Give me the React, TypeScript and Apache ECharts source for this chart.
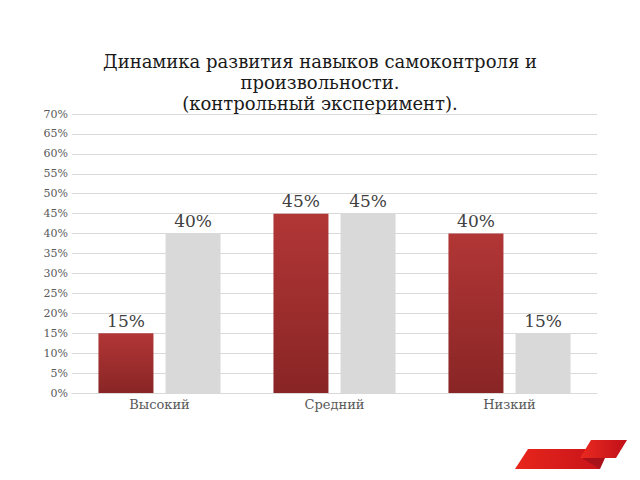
import React, { useEffect, useRef } from 'react';
import * as echarts from 'echarts';

const categories: string[] = ['Высокий', 'Средний', 'Низкий'];
const firstValues: number[] = [15, 45, 40];
const secondValues: number[] = [40, 45, 15];
const seriesNames: string[] = ['Экспериментальная группа', 'Контрольная группа'];
const titleText = 'Динамика развития навыков самоконтроля и\nпроизвольности.\n(контрольный эксперимент).';

const serif = '"DejaVu Serif", "Liberation Serif", serif';

const App: React.FC = () => {
  const chartRef = useRef<HTMLDivElement | null>(null);

  useEffect(() => {
    const chart = echarts.init(chartRef.current!, null, { renderer: 'svg' });

    const labelStyle = {
      show: true,
      position: 'top',
      distance: 4,
      formatter: '{c}%',
      fontFamily: serif,
      fontSize: 17,
      color: '#404040'
    };

    const option = {
      animation: false,
      backgroundColor: '#ffffff',
      title: {
        text: titleText,
        left: 'center',
        top: 46,
        textStyle: {
          fontFamily: serif,
          fontSize: 18,
          fontWeight: 'normal',
          lineHeight: 21,
          color: '#1a1a1a'
        }
      },
      grid: {
        left: 72,
        right: 43,
        top: 114,
        bottom: 87,
        containLabel: false
      },
      xAxis: {
        type: 'category',
        data: categories,
        axisTick: { show: false },
        axisLine: { lineStyle: { color: '#d9d9d9' } },
        axisLabel: {
          fontFamily: serif,
          fontSize: 13,
          color: '#595959',
          margin: 5
        }
      },
      yAxis: {
        type: 'value',
        min: 0,
        max: 70,
        interval: 5,
        axisLine: { show: false },
        axisTick: { show: false },
        splitLine: { lineStyle: { color: '#d9d9d9' } },
        axisLabel: {
          formatter: '{value}%',
          fontFamily: serif,
          fontSize: 11,
          color: '#595959',
          margin: 4
        }
      },
      series: [
        {
          name: seriesNames[0],
          type: 'bar',
          data: firstValues,
          barWidth: 55,
          barGap: '22%',
          itemStyle: {
            color: new echarts.graphic.LinearGradient(0, 0, 0, 1, [
              { offset: 0, color: '#b23636' },
              { offset: 1, color: '#892525' }
            ])
          },
          label: labelStyle
        },
        {
          name: seriesNames[1],
          type: 'bar',
          data: secondValues,
          barWidth: 55,
          itemStyle: { color: '#d9d9d9' },
          label: labelStyle
        }
      ],
      graphic: [
        {
          type: 'polygon',
          shape: { points: [[515, 469], [528, 449], [590, 449], [600, 469]] },
          style: {
            fill: new echarts.graphic.LinearGradient(0, 0, 1, 0, [
              { offset: 0, color: '#e8261c' },
              { offset: 1, color: '#c8141a' }
            ])
          }
        },
        {
          type: 'polygon',
          shape: { points: [[582, 458], [600, 469], [605, 458]] },
          style: { fill: '#a8101a' }
        },
        {
          type: 'polygon',
          shape: { points: [[580, 458], [591, 440], [627, 440], [616, 458]] },
          style: {
            fill: new echarts.graphic.LinearGradient(0, 0, 1, 0, [
              { offset: 0, color: '#ea2a20' },
              { offset: 1, color: '#c01018' }
            ])
          }
        }
      ]
    };

    chart.setOption(option);
    return () => {
      chart.dispose();
    };
  }, []);

  return (
    <div
      ref={chartRef}
      style={{ width: '640px', height: '480px', position: 'absolute', left: 0, top: 0 }}
    />
  );
};

export default App;
